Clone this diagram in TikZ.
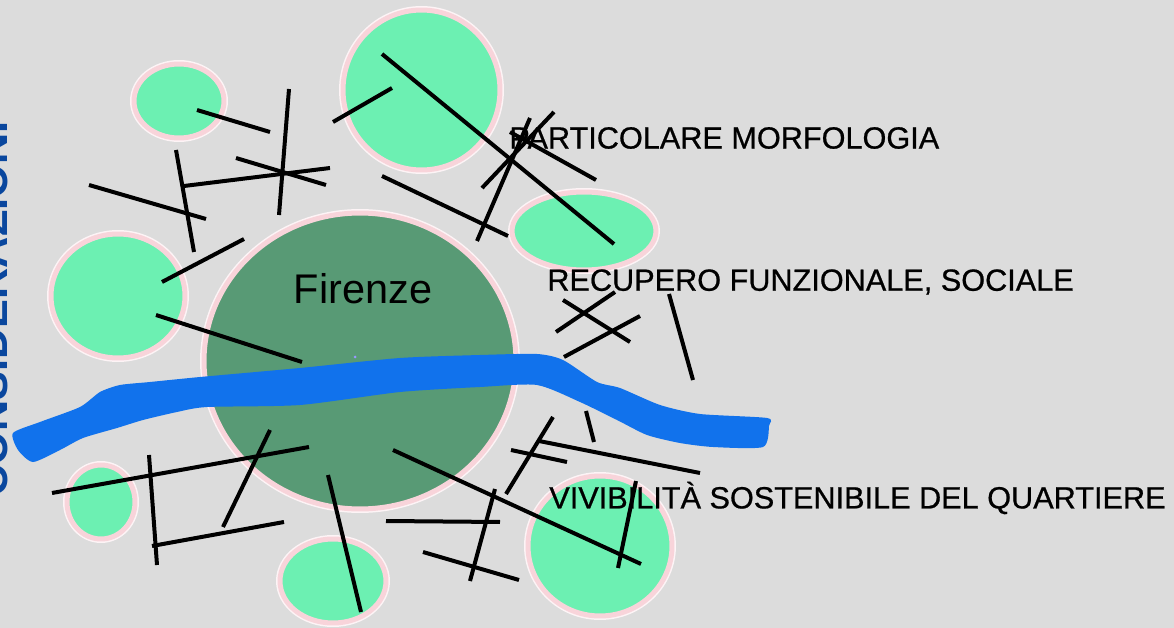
\documentclass[tikz,border=0pt]{standalone}
\usepackage{fontspec}
\setmainfont{Liberation Sans}
\newfontfamily\labelfont[FakeBold=0.7]{Liberation Sans}
\usetikzlibrary{shapes.geometric,positioning}
\definecolor{sfondo}{HTML}{DCDCDC}
\definecolor{verde}{HTML}{6CF0B2}
\definecolor{centro}{HTML}{589A75}
\definecolor{bordo}{HTML}{F8D4DA}
\definecolor{fiume}{HTML}{1172EC}
\definecolor{titolo}{HTML}{0A479E}

\begin{document}
\begin{tikzpicture}[x=0.02cm,y=-0.02cm]
		\tikzstyle{park}=[shape=ellipse,inner sep=0pt,fill=verde,draw=bordo,line width=0.1cm,preaction={draw=white!75!bordo,line width=0.16cm}]
		\tikzstyle{road}=[draw=black,line width=0.08cm]
		\tikzstyle{label}=[anchor=west,inner sep=0pt,text=black,font=\labelfont\fontsize{17.45}{20}\selectfont]

		\useasboundingbox (0,0) rectangle (1174,628);
		\clip (0,0) rectangle (1174,628);
		\fill[sfondo] (0,0) rectangle (1174,628);

		\node[park,minimum width=3.14cm,minimum height=3.2cm] (park_top) at (421.5,90) {};
		\node[park,minimum width=1.8cm,minimum height=1.48cm] (park_nw) at (179,101) {};
		\node[park,minimum width=2.68cm,minimum height=2.48cm] (park_w) at (118,296) {};
		\node[park,minimum width=2.88cm,minimum height=1.56cm] (park_e) at (584,231) {};
		\node[park,minimum width=6.24cm,minimum height=5.92cm,fill=centro] (firenze) at (360,361) {};
		\node[park,minimum width=1.36cm,minimum height=1.48cm] (park_sw) at (101,502) {};
		\node[park,minimum width=2.12cm,minimum height=1.68cm] (park_s) at (333,581) {};
		\node[park,minimum width=2.88cm,minimum height=2.8cm] (park_se) at (600,546) {};

		\node[font=\fontsize{23.6}{26}\selectfont,inner sep=0pt] (firenze-cl) at (363,289) {Firenze};
		\fill[blue!40!white] (355,357) circle (0.03cm);

		% fiume
		\fill[fiume] plot[smooth cycle,tension=0.4] coordinates {(13,433) (40,422) (80,407) (100,392) (120,385) (150,382) (200,377) (300,368) (400,358) (480,355) (537,354) (563,360) (597,382) (620,388) (660,405) (700,414) (767,418) (769,426) (763,447) (713,447) (680,443) (647,435) (617,420) (580,402) (537,385) (480,387) (400,392) (300,405) (207,407) (177,412) (143,420) (117,428) (83,438) (60,450) (33,462) (18,450)};

		% strade
		\draw[road] (197,110) -- (270,132);
		\draw[road] (289,89) -- (279,215);
		\draw[road] (392,88) -- (333,122);
		\draw[road] (382,54) -- (614,244);
		\draw[road] (236,158) -- (326,185);
		\draw[road] (184,186) -- (330,168);
		\draw[road] (176,150) -- (194,252);
		\draw[road] (89,185) -- (206,219);
		\draw[road] (244,239) -- (162,282);
		\draw[road] (156,315) -- (302,362);
		\draw[road] (382,176) -- (508,236);
		\draw[road] (554,112) -- (482,188);
		\draw[road] (530,118) -- (477,241);
		\draw[road] (510,132) -- (596,180);
		\draw[road] (615,292) -- (556,332);
		\draw[road] (640,316) -- (564,357);
		\draw[road] (563,300) -- (630,342);
		\draw[road] (669,294) -- (693,380);
		\draw[road] (586,411) -- (594,442);
		\draw[road] (553,417) -- (506,494);
		\draw[road] (511,450) -- (567,462);
		\draw[road] (539,441) -- (700,473);
		\draw[road] (393,450) -- (641,564);
		\draw[road] (636,481) -- (618,568);
		\draw[road] (386,521) -- (500,522);
		\draw[road] (495,489) -- (470,581);
		\draw[road] (423,552) -- (519,580);
		\draw[road] (328,475) -- (361,612);
		\draw[road] (309,447) -- (52,493);
		\draw[road] (149,455) -- (157,565);
		\draw[road] (152,546) -- (284,522);
		\draw[road] (270,430) -- (223,527);

		\node[label] (morfologia) at (509,138) {PARTICOLARE MORFOLOGIA};
		\node[label] (recupero) at (547,282) {RECUPERO FUNZIONALE, SOCIALE};
		\node[label] (vivibilita) at (549,498) {VIVIBILITÀ SOSTENIBILE DEL QUARTIERE};
		\node[rotate=90,anchor=base,inner sep=0pt,text=titolo,font=\bfseries\fontsize{24.6}{28}\selectfont] (considerazioni) at (8,309) {CONSIDERAZIONI};
\end{tikzpicture}
\end{document}
